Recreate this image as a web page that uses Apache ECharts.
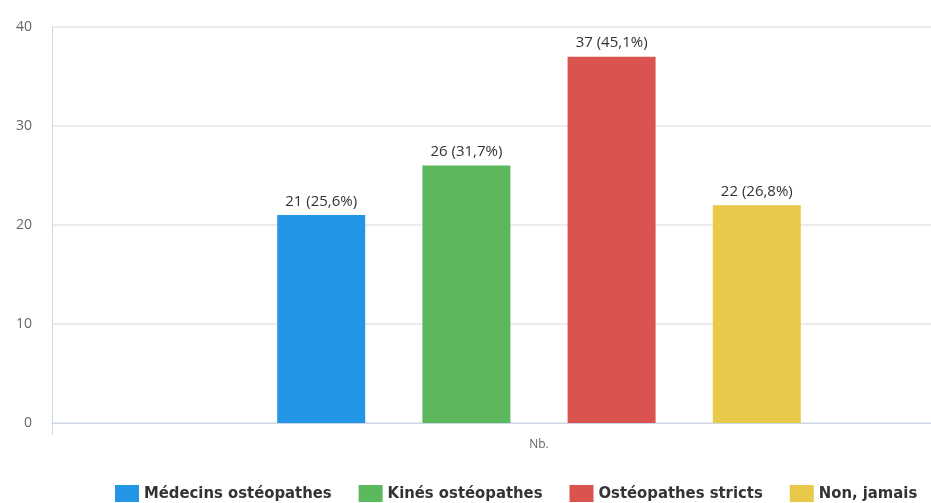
<!DOCTYPE html>
<html><head><meta charset="utf-8">
<script src="https://cdn.jsdelivr.net/npm/echarts@6/dist/echarts.min.js"></script>
<style>html,body{margin:0;padding:0;background:#fff;overflow:hidden;width:931px;height:503px}#c{width:1040px;height:503px}</style>
</head><body><div id="c"></div>
<script>
const categories = ['Nb.'];
const seriesNames = ['Médecins ostéopathes', 'Kinés ostéopathes', 'Ostéopathes stricts', 'Non, jamais'];
const seriesValues = [21, 26, 37, 22];
const seriesPercents = ['25,6%', '31,7%', '45,1%', '26,8%'];
const colors = ['#2396E6', '#5CB85C', '#D9534F', '#E8C94A'];
const yTicks = [0, 10, 20, 30, 40];

const chart = echarts.init(document.getElementById('c'));
const series = seriesNames.map((name, i) => ({
  name: name,
  type: 'bar',
  data: [seriesValues[i]],
  barWidth: 88,
  barGap: '65%',
  itemStyle: { color: colors[i] },
  label: {
    show: true, position: 'top', distance: 6,
    formatter: () => seriesValues[i] + ' (' + seriesPercents[i] + ')',
    color: '#333', fontSize: 15, fontFamily: 'Open Sans, sans-serif'
  }
}));
chart.setOption({
  animation: false,
  grid: { left: 52, right: 14, top: 27, bottom: 80, containLabel: false },
  legend: {
    data: seriesNames, left: 110, top: 480, itemWidth: 24, itemHeight: 17, itemGap: 27,
    icon: 'rect',
    textStyle: { fontSize: 16.5, fontWeight: 'bold', color: '#333', fontFamily: 'Liberation Sans Narrow, DejaVu Sans Condensed, sans-serif' }
  },
  xAxis: {
    type: 'category', data: categories,
    axisLine: { lineStyle: { color: '#ccd6eb' } },
    axisTick: { show: true, length: 12, lineStyle: { color: '#ccd6eb' } },
    axisLabel: { color: '#666', fontSize: 12, margin: 16, fontFamily: 'Open Sans, sans-serif' }
  },
  yAxis: {
    type: 'value', min: yTicks[0], max: yTicks[yTicks.length - 1], interval: 10,
    axisLine: { show: true, lineStyle: { color: '#ccd6eb' } },
    axisTick: { show: false },
    axisLabel: { color: '#666', fontSize: 14, margin: 20, fontFamily: 'Open Sans, sans-serif' },
    splitLine: { lineStyle: { color: '#e6e6e6', width: 1.5 } }
  },
  series: series
});
</script></body></html>
